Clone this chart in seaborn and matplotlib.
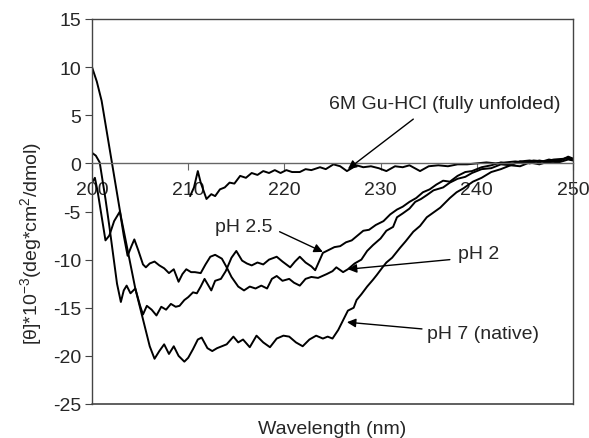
import numpy as np
import pandas as pd
import matplotlib
matplotlib.use("Agg")
import matplotlib.pyplot as plt
import seaborn as sns

# ---- data ----
wl_ph7 = [200, 200.5, 201, 201.5, 202, 202.5, 203, 203.5, 204, 204.5, 205, 205.5, 206, 206.5,
          207, 207.5, 208, 208.5, 209, 209.6, 210, 210.5, 211, 211.4, 212, 212.5, 213, 213.5,
          214, 214.7, 215.2, 215.7, 216.4, 217.1, 217.8, 218.5, 219.2, 219.9, 220.5, 221.2,
          221.9, 222.6, 223.3, 224, 224.5, 225, 225.6, 226.1, 226.6, 227.2, 227.5, 228, 228.6,
          229.2, 229.6, 230.2, 230.6, 231.2, 232, 232.6, 233.4, 234.1, 234.8, 235.5, 236.2,
          237.2, 237.9, 238.6, 239.6, 240.5, 241.5, 242.5, 243.5, 244.5, 245.5, 246.5, 247.5,
          248.5, 249.5, 250]
val_ph7 = [10.0, 8.5, 6.5, 3.5, 0.5, -2.5, -5.5, -8.0, -10.5, -13.0, -15.0, -17.0, -19.0, -20.3,
           -19.5, -18.8, -19.8, -19.0, -20.0, -20.6, -20.2, -19.3, -18.3, -18.1, -19.2, -19.5,
           -19.2, -19.0, -18.8, -18.0, -18.6, -18.3, -19.1, -17.9, -18.6, -19.1, -18.2, -17.9,
           -18.0, -18.6, -19.0, -18.3, -17.9, -18.2, -18.0, -18.2, -17.3, -16.3, -15.3, -15.0,
           -14.2, -13.6, -12.8, -12.1, -11.6, -10.8, -10.3, -9.8, -8.8, -8.1, -7.1, -6.5, -5.6,
           -5.1, -4.6, -3.6, -3.0, -2.6, -1.9, -1.5, -0.9, -0.6, -0.2, -0.3, 0.1, -0.1, 0.2, 0.1,
           0.4, 0.3]

wl_ph2 = [200, 200.3, 200.6, 201, 201.4, 201.8, 202.3, 202.9, 203.3, 203.7, 204.1, 204.4, 204.8,
          205.3, 205.6, 206, 206.5, 207, 207.5, 208, 208.5, 209, 209.4, 209.8, 210.3, 210.7,
          211.3, 211.8, 212.3, 212.8, 213.5, 214, 214.5, 215.2, 215.8, 216.4, 217, 217.6, 218.2,
          218.7, 219.2, 219.8, 220.5, 221, 221.6, 222.2, 222.8, 223.5, 224.4, 225, 225.4, 226.1,
          226.6, 227.3, 228, 228.6, 229.2, 230, 230.6, 231.3, 231.7, 232.3, 233, 233.6, 234.2,
          234.8, 235.5, 236.5, 237.2, 238, 238.8, 239.5, 240.5, 241.5, 242.5, 243.5, 244.5,
          245.5, 246.5, 247.5, 248.5, 249.5, 250]
val_ph2 = [-2.0, -1.5, -3.0, -5.5, -8.0, -7.5, -6.0, -5.0, -7.5, -9.6, -8.6, -7.9, -9.0, -10.5,
           -10.8, -10.4, -10.2, -10.6, -10.9, -11.4, -11.0, -12.3, -11.5, -11.0, -11.3, -11.3,
           -11.4, -10.5, -9.7, -9.5, -9.9, -10.8, -11.8, -12.8, -13.2, -12.8, -13.0, -12.7, -13.0,
           -12.0, -11.7, -12.2, -12.0, -12.4, -12.7, -12.0, -11.8, -11.9, -11.5, -11.2, -10.8,
           -11.3, -11.0, -10.4, -10.0, -9.1, -8.5, -7.8, -7.0, -6.6, -5.6, -5.2, -4.7, -4.0, -3.7,
           -3.3, -2.8, -2.5, -2.0, -1.6, -1.4, -1.0, -0.6, -0.5, -0.1, -0.2, 0.2, 0.0, 0.3, 0.1,
           0.3, 0.6, 0.4]

wl_ph25 = [200, 200.4, 200.8, 201.1, 201.4, 201.8, 202.2, 202.6, 203, 203.3, 203.6, 204, 204.5,
           205, 205.3, 205.7, 206.2, 206.7, 207.2, 207.7, 208.2, 208.7, 209.1, 209.6, 210, 210.5,
           210.9, 211.3, 211.7, 212.4, 212.8, 213.4, 213.9, 214.5, 215, 215.6, 216.1, 216.6,
           217.2, 217.8, 218.4, 219.2, 219.8, 220.6, 221.1, 221.6, 222.2, 222.8, 223.2, 223.6,
           224, 224.6, 225.2, 225.8, 226.4, 227, 227.6, 228.2, 228.8, 229.5, 230.3, 231, 231.7,
           232.3, 233, 233.7, 234.4, 235.1, 235.8, 236.5, 237.2, 238, 238.8, 239.5, 240.5, 241.5,
           242.5, 243.5, 244.5, 245.5, 246.5, 247.5, 248.5, 249.5, 250]
val_ph25 = [1.1, 0.8, 0.1, -1.8, -3.7, -6.5, -9.5, -12.5, -14.4, -13.2, -12.7, -13.5, -13.0,
            -14.8, -15.7, -14.8, -15.2, -15.8, -14.9, -15.2, -14.6, -14.9, -14.8, -14.2, -13.9,
            -13.4, -13.5, -12.8, -12.0, -13.2, -12.2, -12.0, -11.2, -9.8, -9.1, -10.1, -10.4,
            -10.6, -10.3, -10.5, -10.0, -9.7, -10.2, -10.8, -10.2, -9.7, -10.3, -10.7, -11.1,
            -10.2, -9.3, -9.0, -8.7, -8.6, -8.2, -8.0, -7.5, -7.0, -6.9, -6.4, -6.0, -5.3, -4.8,
            -4.5, -4.0, -3.6, -3.0, -2.7, -2.2, -1.8, -1.9, -1.3, -0.9, -0.8, -0.4, -0.2, 0.1,
            -0.1, 0.2, 0.3, 0.1, 0.4, 0.2, 0.7, 0.5]

wl_gu = [210.2, 210.6, 211, 211.3, 211.9, 212.4, 212.8, 213.3, 213.8, 214.3, 214.8, 215.4, 216,
         216.6, 217.2, 217.8, 218.4, 219, 219.6, 220.2, 220.8, 221.6, 222.2, 222.8, 223.7, 224.3,
         225.1, 225.8, 226.5, 227.5, 228.2, 229, 229.8, 230.6, 231.5, 232.3, 233, 234.1, 235,
         236, 237, 238, 239, 240, 241, 242, 243, 244, 245, 245.9, 247, 248, 249.3, 250]
val_gu = [-3.4, -2.5, -0.8, -2.0, -3.7, -3.2, -3.4, -2.7, -2.5, -2.0, -2.1, -1.3, -1.5, -1.0,
          -1.2, -0.8, -1.0, -0.7, -1.0, -0.7, -0.9, -0.9, -0.6, -0.7, -0.4, -0.6, -0.1, -0.3,
          -0.8, -0.2, -0.4, -0.3, -0.5, -0.8, -0.3, -0.4, -0.2, -0.8, -0.3, -0.2, -0.3, -0.1,
          -0.1, 0.0, 0.1, 0.0, 0.1, 0.2, 0.1, 0.3, 0.2, 0.4, 0.5, 0.4]

series_names = ["pH 7 (native)", "pH 2", "pH 2.5", "6M Gu-HCl (fully unfolded)"]
x_ticks = [200, 210, 220, 230, 240, 250]
y_ticks = [15, 10, 5, 0, -5, -10, -15, -20, -25]

frames = []
for name, w, v in zip(series_names, [wl_ph7, wl_ph2, wl_ph25, wl_gu],
                      [val_ph7, val_ph2, val_ph25, val_gu]):
    frames.append(pd.DataFrame({"wavelength": w, "theta": v, "sample": name}))
df = pd.concat(frames, ignore_index=True)

sns.set_style("white")
plt.rcParams["font.family"] = ["Liberation Sans", "DejaVu Sans"]
plt.rcParams["mathtext.fontset"] = "custom"
plt.rcParams["mathtext.rm"] = "Liberation Sans"
plt.rcParams["mathtext.it"] = "Liberation Sans"

FS = 14

fig = plt.figure(figsize=(5.89, 4.39), dpi=100)
ax = fig.add_axes([92 / 589, 1 - 405 / 439, 481 / 589, 385 / 439])

sns.lineplot(data=df, x="wavelength", y="theta", units="sample", estimator=None,
             color="black", linewidth=1.4, sort=False, ax=ax, legend=False)

ax.set_xlim(200, 250)
ax.set_ylim(-25, 15)
ax.set_xticks(x_ticks)
ax.set_yticks(y_ticks)
ax.set_xticklabels([str(t) for t in x_ticks])
ax.set_yticklabels([str(t) for t in y_ticks])

frame_col = "#444444"
for s in ["left", "right", "top", "bottom"]:
    ax.spines[s].set_color(frame_col)
    ax.spines[s].set_linewidth(1.0)
ax.spines["bottom"].set_position(("data", 0))
ax.spines["bottom"].set_color("#666666")
ax.axhline(-25, color=frame_col, lw=1.2, clip_on=False, zorder=3)

ax.tick_params(axis="x", direction="out", length=5, width=0.8, color="#666666",
               labelsize=FS, pad=8, bottom=True)
ax.tick_params(axis="y", direction="out", length=5, width=0.8, color=frame_col,
               labelsize=FS, pad=3, left=True)

ax.set_xlabel("Wavelength (nm)", fontsize=FS)
ax.xaxis.set_label_coords(0.5, -0.042)
ax.set_ylabel(r"[θ]*10$^{-3}$(deg*cm$^{2}$/dmol)", fontsize=FS)
ax.yaxis.set_label_coords(-0.10, 0.42)

arrow = dict(arrowstyle="-|>", color="black", lw=1.0, mutation_scale=13,
             shrinkA=0, shrinkB=0)

# labels
ax.text(224.6, 6.2, series_names[3], fontsize=FS, ha="left", va="center")
ax.text(215.8, -6.6, series_names[2], fontsize=FS, ha="center", va="center")
ax.text(238.0, -9.4, series_names[1], fontsize=FS, ha="left", va="center")
ax.text(234.8, -17.7, series_names[0], fontsize=FS, ha="left", va="center")
# arrows
ax.annotate("", xy=(226.6, -0.6), xytext=(233.4, 4.6), arrowprops=arrow)
ax.annotate("", xy=(224.0, -9.2), xytext=(219.5, -7.1), arrowprops=arrow)
ax.annotate("", xy=(226.6, -11.0), xytext=(237.2, -10.0), arrowprops=arrow)
ax.annotate("", xy=(226.5, -16.5), xytext=(234.3, -17.2), arrowprops=arrow)

fig.savefig("out.png", dpi=100)
